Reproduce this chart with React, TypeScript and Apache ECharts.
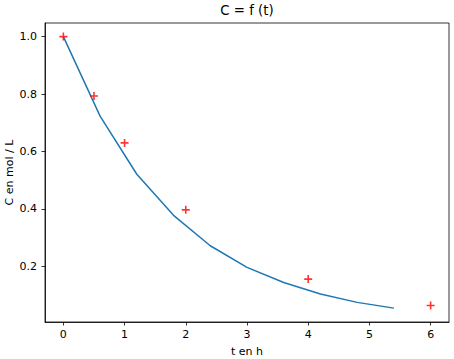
import React, { useEffect, useRef } from "react";
import * as echarts from "echarts";

const modelT = [0, 0.6, 1.2, 1.8, 2.4, 3.0, 3.6, 4.2, 4.8, 5.4];
const modelC = [1.0, 0.723, 0.521, 0.378, 0.272, 0.197, 0.144, 0.104, 0.075, 0.055];
const measT = [0, 0.5, 1, 2, 4, 6];
const measC = [1.0, 0.793, 0.63, 0.397, 0.156, 0.064];
const xTicks = [0, 1, 2, 3, 4, 5, 6];
const yTicks = [0.2, 0.4, 0.6, 0.8, 1.0];

const FONT = "DejaVu Sans";
const PLUS = "path://M4,0H6V4H10V6H6V10H4V6H0V4H4Z";

export default function App() {
  const ref = useRef<HTMLDivElement>(null);
  useEffect(() => {
    if (!ref.current) return;
    const chart = echarts.init(ref.current, undefined, { renderer: "svg" });
    chart.setOption({
      animation: false,
      backgroundColor: "#ffffff",
      textStyle: { fontFamily: FONT },
      title: {
        text: "C = f (t)",
        left: 247,
        textAlign: "center",
        top: 4,
        padding: 0,
        textStyle: { fontFamily: FONT, fontSize: 13.3, fontWeight: "normal", color: "#000" },
      },
      grid: {
        left: 45,
        right: 5,
        top: 23,
        bottom: 37,
        containLabel: false,
        outerBoundsMode: "none",
        show: true,
        borderColor: "#000",
        borderWidth: 0.8,
        backgroundColor: "transparent",
      },
      xAxis: {
        type: "value",
        min: -0.3,
        max: 6.3,
        name: "t en h",
        nameLocation: "middle",
        nameGap: 24,
        nameMoveOverlap: false,
        nameTextStyle: { fontFamily: FONT, fontSize: 11, color: "#000" },
        axisLine: { show: true, onZero: false, lineStyle: { color: "#000", width: 0.8 } },
        axisTick: { show: true, length: 3.5, inside: false, customValues: xTicks, lineStyle: { color: "#000", width: 0.8 } },
        axisLabel: { customValues: xTicks, margin: 7, fontFamily: FONT, fontSize: 11, color: "#000" },
        splitLine: { show: false },
      },
      yAxis: {
        type: "value",
        min: 0.0067,
        max: 1.0473,
        name: "C en mol / L",
        nameLocation: "middle",
        nameRotate: 90,
        nameGap: 30,
        nameMoveOverlap: false,
        nameTextStyle: { fontFamily: FONT, fontSize: 11, color: "#000" },
        axisLine: { show: true, onZero: false, lineStyle: { color: "#000", width: 0.8 } },
        axisTick: { show: true, length: 3.5, inside: false, customValues: yTicks, lineStyle: { color: "#000", width: 0.8 } },
        axisLabel: {
          customValues: yTicks,
          margin: 8,
          fontFamily: FONT,
          fontSize: 11,
          color: "#000",
          formatter: (v: number) => v.toFixed(1),
        },
        splitLine: { show: false },
      },
      series: [
        {
          type: "line",
          data: modelT.map((t, i) => [t, modelC[i]]),
          showSymbol: false,
          symbol: "none",
          lineStyle: { color: "#1f77b4", width: 1.5 },
          z: 2,
        },
        {
          type: "scatter",
          data: measT.map((t, i) => [t, measC[i]]),
          symbol: PLUS,
          symbolSize: 8,
          itemStyle: { color: "#ff0000" },
          z: 3,
        },
      ],
    });
    return () => chart.dispose();
  }, []);
  return (
    <div
      ref={ref}
      style={{ position: "fixed", left: 0, top: 0, width: 454, height: 359, background: "#fff" }}
    />
  );
}
